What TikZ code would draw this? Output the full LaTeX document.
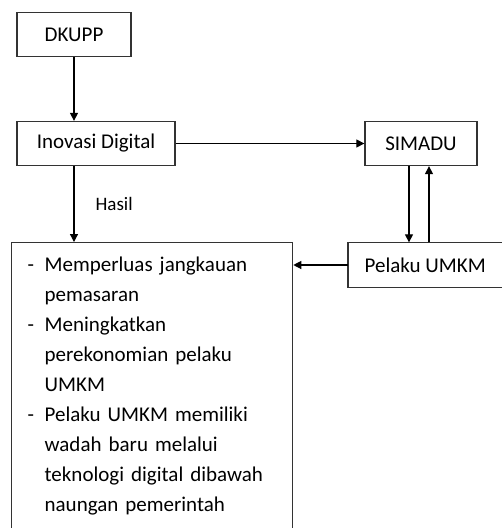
\documentclass[tikz,border=0pt]{standalone}
\usepackage{fontspec}
\setmainfont{Carlito}
\usetikzlibrary{arrows.meta,calc}

\tikzset{
  kotak/.style={draw=black!80, line width=1.3pt, font=\fontsize{21}{30}\selectfont,
                inner xsep=16pt, minimum height=44pt},
  panah/.style={line width=1.2pt, -{Triangle[length=8pt,width=8pt]}}
}
\newcommand{\butir}{\makebox[17pt][l]{-}}
\newcommand{\lanjut}{\hspace*{17pt}}

\begin{document}
\begin{tikzpicture}[x=1pt,y=-1pt]
  % batas gambar
  \path[use as bounding box, clip] (0,0) rectangle (502,528);
  % kotak-kotak
  \node[kotak, minimum width=114pt] (dkupp) at (74,34.5) {DKUPP};
  \node[kotak, minimum width=158pt] (inovasi) at (96,143.5) {Inovasi Digital};
  \node[kotak, minimum width=112pt] (simadu) at (421,143.5) {SIMADU};
  \node[kotak, draw=none, anchor=west] (pelaku) at (348,265) {Pelaku UMKM};
  % kotak Pelaku UMKM terpotong di tepi kanan
  \draw[draw=black!80, line width=1.3pt] ($(pelaku.north west)+(200,0)$) -- (pelaku.north west)
    -- (pelaku.south west) -- ++(200,0);
  \node[kotak, anchor=north west, text width=249pt, align=left, inner ysep=14pt] (hasil) at (11,242)
    {\butir Memperluas jangkauan\\
     \lanjut pemasaran\\
     \butir Meningkatkan\\
     \lanjut perekonomian pelaku\\
     \lanjut UMKM\\
     \butir Pelaku UMKM memiliki\\
     \lanjut wadah baru melalui\\
     \lanjut teknologi digital dibawah\\
     \lanjut naungan pemerintah};
  % panah
  \draw[panah] (dkupp.south) -- (dkupp.south |- inovasi.north);
  \draw[panah] (inovasi.east) -- (simadu.west);
  \coordinate (kiri) at (dkupp.south |- inovasi.south);
  \draw[panah] (kiri) -- (kiri |- hasil.north)
    node[midway, anchor=west, xshift=21pt, inner sep=0pt, font=\fontsize{19}{22}\selectfont] (lblhasil) {Hasil};
  \draw[panah] ([xshift=-12pt]simadu.south) -- ([xshift=-12pt]simadu.south |- pelaku.north);
  \draw[panah] ([xshift=8pt]simadu.south |- pelaku.north) -- ([xshift=8pt]simadu.south);
  \draw[panah] (pelaku.west) -- (pelaku.west -| hasil.east);
\end{tikzpicture}
\end{document}
